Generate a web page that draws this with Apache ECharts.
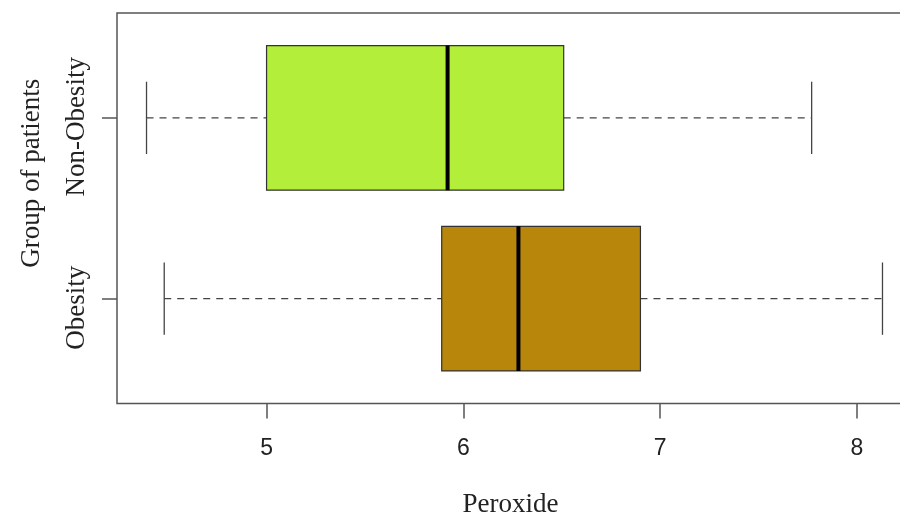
<!DOCTYPE html>
<html>
<head>
<meta charset="utf-8">
<script src="https://cdn.jsdelivr.net/npm/echarts@6/dist/echarts.min.js"></script>
<style>
  html, body { margin: 0; padding: 0; background: #fff; }
  #chart { width: 900px; height: 513px; }
</style>
</head>
<body>
<div id="chart"></div>
<script>
// ---- data ----
const categories = ['Obesity', 'Non-Obesity'];   // bottom to top
const positions = [1, 2];
const minVals = [4.48, 4.39];
const q1Vals = [5.89, 5.00];
const medianVals = [6.28, 5.92];
const q3Vals = [6.90, 6.51];
const maxVals = [8.13, 7.77];
const xTicks = [5, 6, 7, 8];

// ---- styles ----
const boxFill = ['#B8860B', '#B3EE3A'];
const serif = 'Liberation Serif';
const sans = 'Liberation Sans';

const seriesData = categories.map((c, i) => [positions[i], minVals[i], q1Vals[i], medianVals[i], q3Vals[i], maxVals[i]]);

function renderItem(params, api) {
  const yv = api.value(0);
  const pMin = api.coord([api.value(1), yv]);
  const yc = pMin[1];
  const xMin = pMin[0];
  const xQ1 = api.coord([api.value(2), yv])[0];
  const xMed = api.coord([api.value(3), yv])[0];
  const xQ3 = api.coord([api.value(4), yv])[0];
  const xMax = api.coord([api.value(5), yv])[0];
  const unit = api.size([0, 1])[1];
  const halfBox = unit * 0.4;
  const halfCap = unit * 0.2;
  const whisk = { stroke: '#444', lineWidth: 1.3, lineDash: [7, 6] };
  const cap = { stroke: '#444', lineWidth: 1.3 };
  return {
    type: 'group',
    children: [
      { type: 'line', shape: { x1: xMin, y1: yc, x2: xQ1, y2: yc }, style: whisk },
      { type: 'line', shape: { x1: xQ3, y1: yc, x2: xMax, y2: yc }, style: whisk },
      { type: 'line', shape: { x1: xMin, y1: yc - halfCap, x2: xMin, y2: yc + halfCap }, style: cap },
      { type: 'line', shape: { x1: xMax, y1: yc - halfCap, x2: xMax, y2: yc + halfCap }, style: cap },
      { type: 'rect', shape: { x: xQ1, y: yc - halfBox, width: xQ3 - xQ1, height: 2 * halfBox },
        style: { fill: boxFill[params.dataIndex], stroke: '#333', lineWidth: 1.2 } },
      { type: 'line', shape: { x1: xMed, y1: yc - halfBox, x2: xMed, y2: yc + halfBox },
        style: { stroke: '#000', lineWidth: 4 } }
    ]
  };
}

const chart = echarts.init(document.getElementById('chart'), null, { renderer: 'canvas' });
chart.setOption({
  backgroundColor: '#fff',
  animation: false,
  grid: {
    left: 117, top: 13, right: -12, bottom: 109.5,
    outerBoundsMode: 'none', containLabel: false,
    show: true, borderColor: '#555', borderWidth: 1.5, backgroundColor: 'transparent'
  },
  xAxis: {
    type: 'value', min: 4.24, max: 8.28,
    name: 'Peroxide', nameLocation: 'middle', nameGap: 88,
    nameTextStyle: { fontFamily: serif, fontSize: 27, color: '#222', padding: [0, 8, 0, 0] },
    axisLine: { show: false },
    splitLine: { show: false },
    axisTick: { show: true, customValues: xTicks, length: 15, lineStyle: { color: '#555', width: 1.5 } },
    axisLabel: { customValues: xTicks, fontFamily: sans, fontSize: 23, color: '#222', margin: 34 }
  },
  yAxis: {
    type: 'value', min: 0.42, max: 2.58,
    name: 'Group of patients', nameLocation: 'middle', nameGap: 72,
    nameTextStyle: { fontFamily: serif, fontSize: 27, color: '#222', padding: [0, 0, 0, 70] },
    axisLine: { show: false },
    splitLine: { show: false },
    axisTick: { show: true, customValues: positions, length: 15, lineStyle: { color: '#555', width: 1.5 } },
    axisLabel: {
      customValues: positions, rotate: 90, margin: 27,
      fontFamily: serif, fontSize: 27, color: '#222',
      padding: [0, 18, 0, 0],
      formatter: function (v) { return categories[Math.round(v) - 1]; }
    }
  },
  series: [{
    type: 'custom',
    renderItem: renderItem,
    encode: { x: [1, 2, 3, 4, 5], y: 0 },
    data: seriesData,
    clip: false
  }]
});
</script>
</body>
</html>
